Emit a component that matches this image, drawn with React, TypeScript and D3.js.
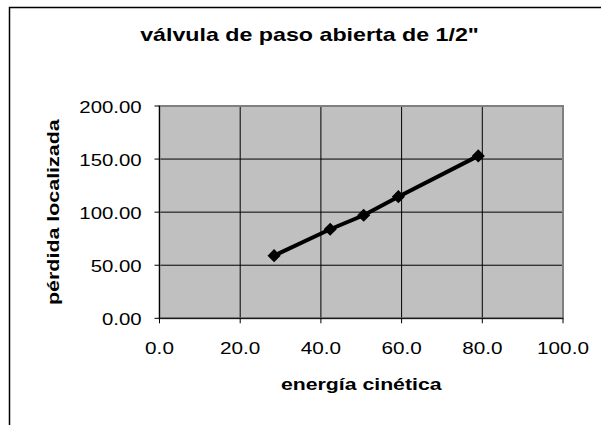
import React from "react";
import * as d3 from "d3";

// Measured pairs: kinetic energy vs. local head loss
const energiaCinetica = [28.4, 42.3, 50.6, 59.2, 79.0];
const perdidaLocalizada = [59.0, 83.9, 97.1, 114.6, 153.0];

const xTicks = [0, 20, 40, 60, 80, 100];
const yTicks = [0, 50, 100, 150, 200];

const chartTitle = 'válvula de paso abierta de 1/2"';
const xTitle = "energía cinética";
const yTitle = "pérdida localizada";

const W = 601;
const H = 425;
const plot = { left: 159.5, right: 563, top: 106, bottom: 318.3 };
const FONT = "'Liberation Sans', Arial, sans-serif";

export default function App() {
  const x = d3.scaleLinear().domain([0, 100]).range([plot.left, plot.right]);
  const y = d3.scaleLinear().domain([0, 200]).range([plot.bottom, plot.top]);

  const points = energiaCinetica.map((e, i) => [e, perdidaLocalizada[i]] as [number, number]);
  const line = d3
    .line<[number, number]>()
    .x((d) => x(d[0]))
    .y((d) => y(d[1]));
  const diamond = d3.symbol().type(d3.symbolDiamond2).size(110)();

  const fx = d3.format(".1f");
  const fy = d3.format(".2f");

  return (
    <svg
      width={W}
      height={H}
      style={{ position: "fixed", left: 0, top: 0, background: "#fff" }}
      fontFamily={FONT}
    >
      {/* outer chart frame */}
      <rect x={9.5} y={7.5} width={700} height={600} fill="#fff" stroke="#000" strokeWidth={1.5} />

      {/* title */}
      <g transform={`translate(309.5,41) scale(1.29,1)`}>
        <text textAnchor="middle" fontSize={18} fontWeight="bold" fill="#000">
          {chartTitle}
        </text>
      </g>

      {/* plot area */}
      <rect
        x={plot.left}
        y={plot.top}
        width={plot.right - plot.left}
        height={plot.bottom - plot.top}
        fill="#c0c0c0"
      />

      {/* gridlines */}
      {xTicks.slice(1, -1).map((t) => (
        <line key={"gx" + t} x1={x(t)} x2={x(t)} y1={plot.top} y2={plot.bottom} stroke="#000" strokeWidth={1} />
      ))}
      {yTicks.slice(1, -1).map((t) => (
        <line key={"gy" + t} x1={plot.left} x2={plot.right} y1={y(t)} y2={y(t)} stroke="#000" strokeWidth={1} />
      ))}

      {/* plot border */}
      <rect
        x={plot.left}
        y={plot.top}
        width={plot.right - plot.left}
        height={plot.bottom - plot.top}
        fill="none"
        stroke="#808080"
        strokeWidth={2}
      />

      {/* axes */}
      <line x1={plot.left} x2={plot.left} y1={plot.top} y2={plot.bottom} stroke="#000" strokeWidth={1} />
      <line x1={plot.left} x2={plot.right} y1={plot.bottom} y2={plot.bottom} stroke="#000" strokeWidth={1} />
      {yTicks.map((t) => (
        <g key={"yt" + t}>
          <line x1={plot.left - 5} x2={plot.left} y1={y(t)} y2={y(t)} stroke="#000" strokeWidth={1} />
          <g transform={`translate(${plot.left - 17.8},${y(t) + 7}) scale(1.2,1)`}>
            <text textAnchor="end" fontSize={17} fill="#000">
              {fy(t)}
            </text>
          </g>
        </g>
      ))}
      {xTicks.map((t) => (
        <g key={"xt" + t}>
          <line x1={x(t)} x2={x(t)} y1={plot.bottom} y2={plot.bottom + 5} stroke="#000" strokeWidth={1} />
          <g transform={`translate(${x(t)},354) scale(1.22,1)`}>
            <text textAnchor="middle" fontSize={17} fill="#000">
              {fx(t)}
            </text>
          </g>
        </g>
      ))}

      {/* axis titles */}
      <g transform={`translate(${(plot.left + plot.right) / 2},390) scale(1.25,1)`}>
        <text textAnchor="middle" fontSize={17} fontWeight="bold" fill="#000">
          {xTitle}
        </text>
      </g>
      <g transform={`translate(59.3,${(plot.top + plot.bottom) / 2}) rotate(-90) scale(1.26,1)`}>
        <text textAnchor="middle" fontSize={17} fontWeight="bold" fill="#000">
          {yTitle}
        </text>
      </g>

      {/* series */}
      <path d={line(points) ?? ""} fill="none" stroke="#000" strokeWidth={4} />
      {points.map((p, i) => (
        <path key={"m" + i} d={diamond ?? ""} transform={`translate(${x(p[0])},${y(p[1])})`} fill="#000" />
      ))}
    </svg>
  );
}
